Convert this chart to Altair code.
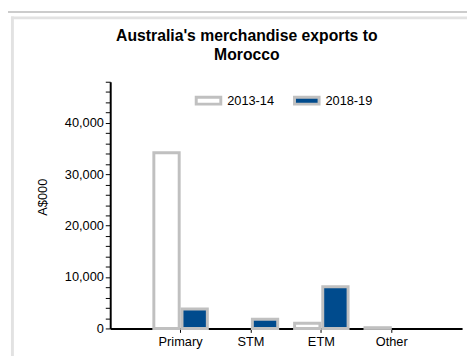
import altair as alt
import pandas as pd

categories = ["Primary", "STM", "ETM", "Other"]
years = ["2013-14", "2018-19"]
values_2013 = [34200, None, 1000, 150]
values_2018 = [3800, 1800, 8100, None]
y_ticks = list(range(0, 48001, 2000))
colors = ["#ffffff", "#004b8d"]
title_lines = ["Australia's merchandise exports to", "Morocco"]

rows = []
for c, a, b in zip(categories, values_2013, values_2018):
    if a is not None:
        rows.append({"category": c, "year": years[0], "value": a})
    if b is not None:
        rows.append({"category": c, "year": years[1], "value": b})
df = pd.DataFrame(rows)

FONT = "Liberation Sans"
one = pd.DataFrame({"k": [0]})

frame_top = alt.Chart(one).mark_rule(color="#cccccc", strokeWidth=2).encode(
    x=alt.value(-104), x2=alt.value(363), y=alt.value(-71))
panel_top = alt.Chart(one).mark_rule(color="#e2e2e2", strokeWidth=3).encode(
    x=alt.value(-101), x2=alt.value(363), y=alt.value(-65))
panel_left = alt.Chart(one).mark_rule(color="#e2e2e2", strokeWidth=3).encode(
    x=alt.value(-99.5), y=alt.value(-66.5), y2=alt.value(290))

bars = alt.Chart(df).mark_bar(stroke="#c0c0c0", strokeWidth=3).encode(
    x=alt.X("category:N", sort=categories,
            scale=alt.Scale(paddingInner=0, paddingOuter=0.5),
            axis=alt.Axis(title=None, labelAngle=0, domainColor="black", domainWidth=2,
                          tickColor="black", tickSize=4, labelPadding=3,
                          labelFontSize=13, labelFont=FONT, labelColor="black")),
    xOffset=alt.XOffset("year:N", sort=years,
                        scale=alt.Scale(paddingInner=0.1, paddingOuter=0.3)),
    y=alt.Y("value:Q", scale=alt.Scale(domain=[0, 48000], nice=False),
            axis=alt.Axis(values=y_ticks,
                          labelExpr="datum.value % 10000 == 0 ? format(datum.value, ',') : ''",
                          title="A$000", titleFont=FONT, titleFontSize=13,
                          titleFontWeight="normal", titleColor="black",
                          titleX=-69, titleY=117, titleAngle=-90, titleBaseline="middle",
                          titleAlign="center",
                          grid=False, domainColor="black", domainWidth=2,
                          tickColor="black", tickSize=5, labelPadding=2,
                          labelFontSize=13, labelFont=FONT, labelColor="black")),
    color=alt.Color("year:N", sort=years,
                    scale=alt.Scale(domain=years, range=colors),
                    legend=alt.Legend(title=None, orient="none", legendX=86, legendY=5,
                                      direction="horizontal", symbolType="M-1,-0.28H1V0.28H-1Z",
                                      symbolSize=625, symbolStrokeColor="#c0c0c0",
                                      symbolStrokeWidth=3, symbolOpacity=1,
                                      labelFont=FONT, labelFontSize=13, labelColor="black",
                                      labelOffset=5, columnPadding=14, padding=0)),
)

chart = alt.layer(frame_top, panel_top, panel_left, bars).properties(
    width=358, height=251,
    padding={"left": 104, "top": 72, "right": 5, "bottom": 25},
    autosize=alt.AutoSizeParams(type="none"),
    title=alt.TitleParams(text=title_lines, font=FONT, fontSize=16, fontWeight="bold",
                          color="black", anchor="middle", frame="group", dx=-40, dy=70,
                          lineHeight=19, offset=17),
    background="white",
).configure_view(stroke=None)

chart.save("out.html", embed_options={"renderer": "svg", "actions": False})
